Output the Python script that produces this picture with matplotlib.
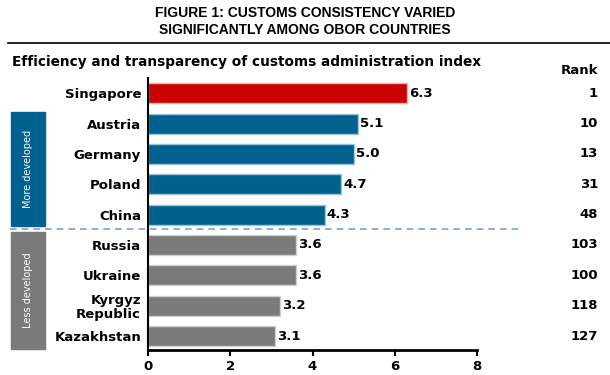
import matplotlib.pyplot as plt
from matplotlib.patches import Rectangle
from matplotlib.lines import Line2D

# data
countries = ['Singapore', 'Austria', 'Germany', 'Poland', 'China',
             'Russia', 'Ukraine', 'Kyrgyz\nRepublic', 'Kazakhstan']
scores = [6.3, 5.1, 5.0, 4.7, 4.3, 3.6, 3.6, 3.2, 3.1]
ranks = [1, 10, 13, 31, 48, 103, 100, 118, 127]
groups = ['lead', 'more', 'more', 'more', 'more', 'less', 'less', 'less', 'less']
xticks = [0, 2, 4, 6, 8]

colors = {'lead': '#cc0000', 'more': '#00618f', 'less': '#7a7a7a'}
edges = {'lead': '#f0b0b0', 'more': '#9cc3d8', 'less': '#d0d0d0'}

W, H = 610, 375
fig = plt.figure(figsize=(W / 100, H / 100), dpi=100)


def fx(px):
    return px / W


def fy(py):
    return 1 - py / H


ax = fig.add_axes([fx(148), fy(350), fx(477) - fx(148), fy(78) - fy(350)])

ypos = list(range(len(countries)))
for i, (s, g) in enumerate(zip(scores, groups)):
    ax.barh(i, s, height=0.66, color=colors[g], edgecolor=edges[g], linewidth=1)
    ax.text(s + 0.05, i, f'{s:.1f}', va='center', ha='left',
            fontsize=9.5, fontweight='bold')

ax.set_xlim(0, 8)
ax.set_ylim(8.46, -0.5)
ax.set_xticks(xticks)
ax.set_xticklabels([str(t) for t in xticks], fontsize=9.5, fontweight='bold')
ax.set_yticks(ypos)
ax.set_yticklabels(countries, fontsize=9.5, fontweight='bold', linespacing=1.1)
ax.tick_params(axis='y', length=0, pad=5)
ax.tick_params(axis='x', length=4, width=1.5, direction='out', pad=3)
for side in ['top', 'right']:
    ax.spines[side].set_visible(False)
ax.spines['left'].set_linewidth(1.5)
ax.spines['bottom'].set_linewidth(2)

# title block
fig.text(0.5, fy(13), 'FIGURE 1: CUSTOMS CONSISTENCY VARIED', ha='center', va='center',
         fontsize=10, fontweight='bold', family='Liberation Sans')
fig.text(0.5, fy(30), 'SIGNIFICANTLY AMONG OBOR COUNTRIES', ha='center', va='center',
         fontsize=10, fontweight='bold', family='Liberation Sans')
fig.add_artist(Line2D([fx(8), fx(610)], [fy(43), fy(43)], color='black', lw=1.2))

fig.text(fx(12), fy(62), 'Efficiency and transparency of customs administration index',
         ha='left', va='center', fontsize=9.8, fontweight='bold')
fig.text(fx(598), fy(70), 'Rank', ha='right', va='center', fontsize=9.5, fontweight='bold')

# ranks column
for i, r in enumerate(ranks):
    y_fig = ax.transData.transform((0, i))
    y_fig = fig.transFigure.inverted().transform(y_fig)[1]
    fig.text(fx(598), y_fig, str(r), ha='right', va='center', fontsize=9.5, fontweight='bold')

# group boxes
fig.add_artist(Rectangle((fx(11), fy(226)), fx(45) - fx(11), fy(112) - fy(226),
                         color=colors['more'], transform=fig.transFigure))
fig.add_artist(Rectangle((fx(11), fy(349)), fx(45) - fx(11), fy(232) - fy(349),
                         color=colors['less'], transform=fig.transFigure))
fig.text(fx(28), fy(169), 'More developed', rotation=90, ha='center', va='center',
         color='white', fontsize=7)
fig.text(fx(28), fy(290), 'Less developed', rotation=90, ha='center', va='center',
         color='white', fontsize=7)

# separator between groups
fig.add_artist(Line2D([fx(10), fx(520)], [fy(229), fy(229)], color='#7f9fcf',
                      lw=1.2, ls=(0, (4, 3))))

fig.savefig('out.png', dpi=100)
